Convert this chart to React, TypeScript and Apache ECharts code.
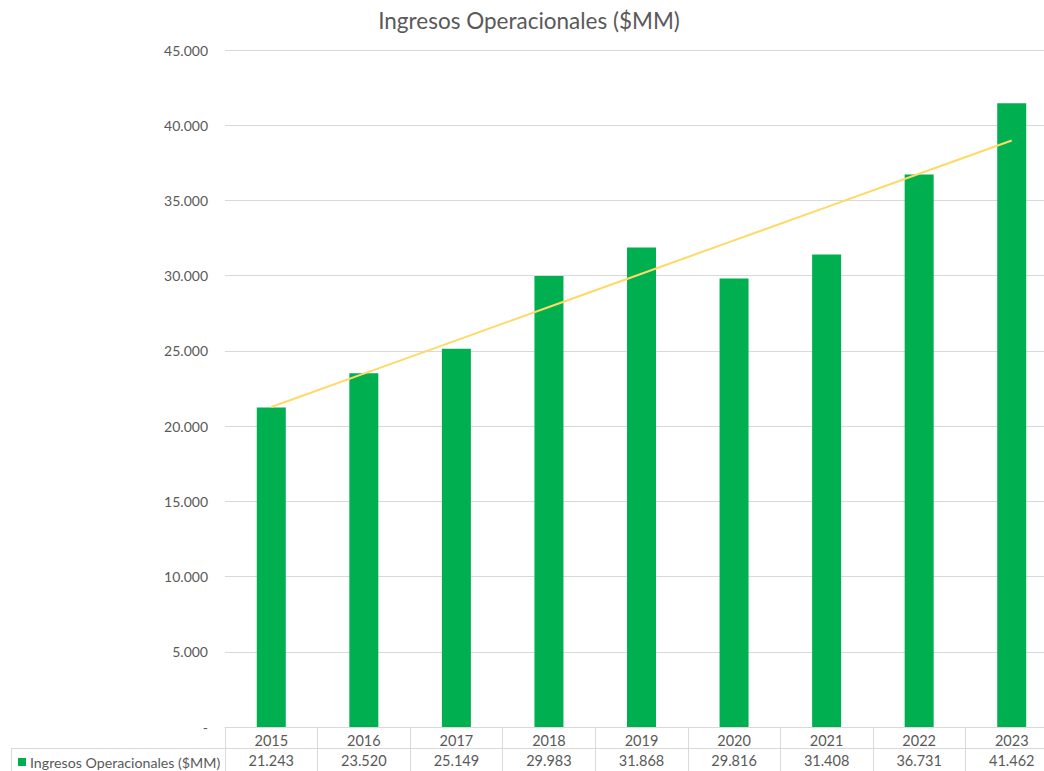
import React, { useEffect, useRef } from "react";
import * as echarts from "echarts";

const title = "Ingresos Operacionales ($MM)";
const seriesName = "Ingresos Operacionales ($MM)";
const years = ["2015", "2016", "2017", "2018", "2019", "2020", "2021", "2022", "2023"];
const values = [21243, 23520, 25149, 29983, 31868, 29816, 31408, 36731, 41462];

const fmt = (v: number) =>
  v === 0 ? "-" : Math.round(v).toString().replace(/\B(?=(\d{3})+(?!\d))/g, ".");

// Linear trendline (least squares), as Excel computes it
function trend(ys: number[]): number[] {
  const n = ys.length;
  const mx = (n - 1) / 2;
  const my = ys.reduce((a, b) => a + b, 0) / n;
  let sxy = 0, sxx = 0;
  ys.forEach((y, i) => { sxy += (i - mx) * (y - my); sxx += (i - mx) * (i - mx); });
  const b = sxy / sxx;
  return ys.map((_, i) => my + b * (i - mx));
}

const GREY = "#595959";
const LINE = "#d9d9d9";
const FONT = "Lato";
const W = 1044;
const H = 771;
const GRID_LEFT = 225;
const BAND = 92.5;
const INNER_W = GRID_LEFT + BAND * years.length;

export default function App() {
  const ref = useRef<HTMLDivElement>(null);
  useEffect(() => {
    if (!ref.current) return;
    const chart = echarts.init(ref.current, null, { renderer: "svg" });
    chart.setOption({
      animation: false,
      backgroundColor: "#ffffff",
      textStyle: { fontFamily: FONT },
      title: {
        text: title,
        left: 524,
        textAlign: "center",
        top: 4,
        textStyle: { fontFamily: FONT, fontSize: 22.5, fontWeight: "normal", color: GREY },
      },
      legend: {
        data: [seriesName],
        left: 13,
        top: 750,
        itemWidth: 8,
        itemHeight: 8,
        icon: "rect",
        itemGap: 4,
        textStyle: { fontFamily: FONT, fontSize: 14.2, color: GREY, padding: [0, 0, 0, -1] },
      },
      grid: { left: GRID_LEFT, top: 50, right: 0, height: 677, containLabel: false },
      xAxis: [
        {
          type: "category",
          data: years,
          position: "bottom",
          axisLine: { show: true, lineStyle: { color: LINE, width: 1 } },
          axisTick: { show: true, interval: 0, length: 44, lineStyle: { color: LINE } },
          axisLabel: { interval: 0, margin: 6, fontFamily: FONT, fontSize: 14.5, color: GREY },
        },
        {
          type: "category",
          data: values.map(fmt),
          position: "bottom",
          offset: 21,
          axisLine: { show: true, lineStyle: { color: LINE, width: 1 } },
          axisTick: { show: false },
          axisLabel: { interval: 0, margin: 5, fontFamily: FONT, fontSize: 14.5, color: GREY },
        },
      ],
      yAxis: {
        type: "value",
        min: 0,
        max: 45000,
        interval: 5000,
        axisLine: { show: false },
        axisTick: { show: false },
        splitLine: { lineStyle: { color: LINE, width: 1 } },
        axisLabel: {
          margin: 17,
          fontFamily: FONT,
          fontSize: 14,
          color: GREY,
          formatter: (v: number) => fmt(v),
        },
      },
      graphic: [
        {
          type: "line",
          shape: { x1: 11, y1: 748.5, x2: GRID_LEFT, y2: 748.5 },
          style: { stroke: LINE, lineWidth: 1 },
        },
        {
          type: "line",
          shape: { x1: 11.5, y1: 748, x2: 11.5, y2: 771 },
          style: { stroke: LINE, lineWidth: 1 },
        },
      ],
      series: [
        {
          name: seriesName,
          type: "bar",
          data: values,
          barWidth: 29,
          itemStyle: { color: "#00B050" },
        },
        {
          name: "Tendencia",
          type: "line",
          data: trend(values),
          symbol: "none",
          lineStyle: { color: "#FFD966", width: 2 },
          z: 5,
        },
      ],
    });
    return () => chart.dispose();
  }, []);
  return (
    <div
      style={{ position: "fixed", left: 0, top: 0, width: W, height: H, overflow: "hidden", background: "#fff" }}
    >
      <div ref={ref} style={{ width: INNER_W, height: H }} />
    </div>
  );
}
